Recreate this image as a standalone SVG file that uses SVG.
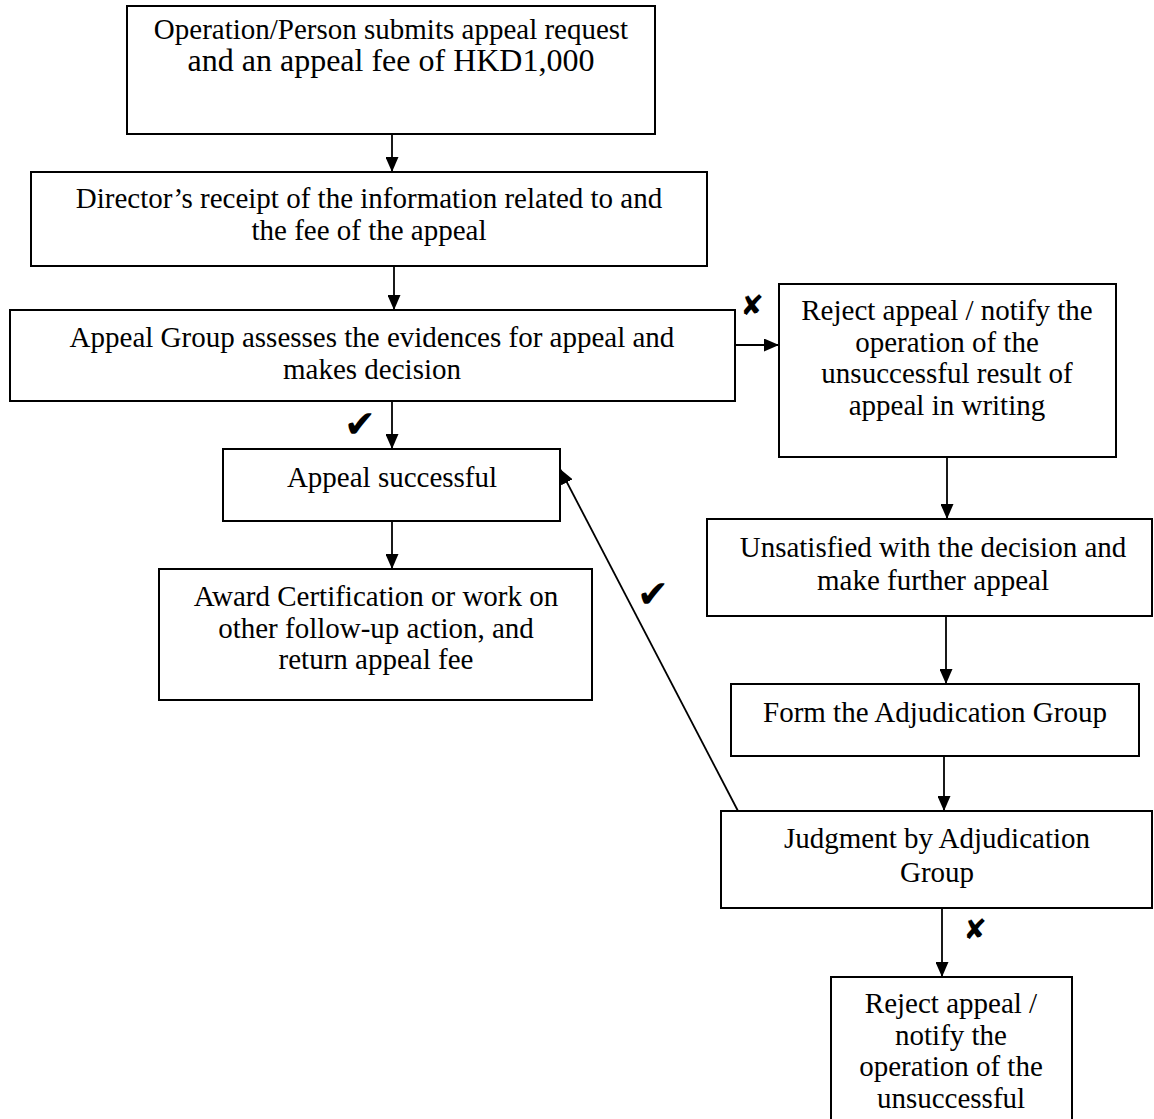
<svg xmlns="http://www.w3.org/2000/svg" width="1154" height="1119" viewBox="0 0 1154 1119">
<style>
  .box { fill: #fff; stroke: #000; stroke-width: 2; }
  .t { font-family: "Liberation Serif", "Times New Roman", serif; font-size: 29px; fill: #000; text-anchor: middle; }
  .big { font-size: 32px; }
  .conn { stroke: #000; stroke-width: 1.8; fill: none; marker-end: url(#arr); }
  .mark { font-family: "DejaVu Sans", sans-serif; fill: #000; text-anchor: middle; }
  .chk { font-size: 38px; }
  .xm { font-size: 28px; }
</style>
<defs>
  <marker id="arr" markerWidth="15" markerHeight="13" viewBox="0 0 15 13" refX="15" refY="6.5" orient="auto" markerUnits="userSpaceOnUse">
    <path d="M0,0 L15,6.5 L0,13 Z" fill="#000"/>
  </marker>
</defs>
<rect width="1154" height="1119" fill="#fff"/>

<g id="connectors">
  <line class="conn" x1="392" y1="134" x2="392" y2="172"/>
  <line class="conn" x1="394" y1="266" x2="394" y2="310"/>
  <line class="conn" x1="392" y1="401" x2="392" y2="449"/>
  <line class="conn" x1="735" y1="345" x2="779" y2="345"/>
  <line class="conn" x1="947" y1="457" x2="947" y2="519"/>
  <line class="conn" x1="392" y1="521" x2="392" y2="569"/>
  <line class="conn" x1="946" y1="616" x2="946" y2="684"/>
  <line class="conn" x1="944" y1="756" x2="944" y2="811"/>
  <line class="conn" x1="942" y1="908" x2="942" y2="977"/>
  <line class="conn" x1="738" y1="811" x2="560" y2="469"/>
  <text class="mark chk" x="360" y="437">✔</text>
  <text class="mark chk" x="653" y="607">✔</text>
  <text class="mark xm" x="752" y="315">✘</text>
  <text class="mark xm" x="975" y="939">✘</text>
</g>

<g id="n1">
  <rect class="box" x="127" y="6" width="528" height="128"/>
  <text class="t" x="391" y="39">Operation/Person submits appeal request</text>
  <text class="t big" x="391" y="71">and an appeal fee of HKD1,000</text>
</g>
<g id="n2">
  <rect class="box" x="31" y="172" width="676" height="94"/>
  <text class="t" x="369" y="208">Director’s receipt of the information related to and</text>
  <text class="t" x="369" y="240">the fee of the appeal</text>
</g>
<g id="n3">
  <rect class="box" x="10" y="310" width="725" height="91"/>
  <text class="t" x="372" y="347">Appeal Group assesses the evidences for appeal and</text>
  <text class="t" x="372" y="379">makes decision</text>
</g>
<g id="n4">
  <rect class="box" x="779" y="284" width="337" height="173"/>
  <text class="t" x="947" y="320">Reject appeal / notify the</text>
  <text class="t" x="947" y="351.5">operation of the</text>
  <text class="t" x="947" y="383">unsuccessful result of</text>
  <text class="t" x="947" y="414.5">appeal in writing</text>
</g>
<g id="n5">
  <rect class="box" x="223" y="449" width="337" height="72"/>
  <text class="t" x="392" y="487">Appeal successful</text>
</g>
<g id="n6">
  <rect class="box" x="159" y="569" width="433" height="131"/>
  <text class="t" x="376" y="606">Award Certification or work on</text>
  <text class="t" x="376" y="638">other follow-up action, and</text>
  <text class="t" x="376" y="669">return appeal fee</text>
</g>
<g id="n7">
  <rect class="box" x="707" y="519" width="445" height="97"/>
  <text class="t" x="933" y="557">Unsatisfied with the decision and</text>
  <text class="t" x="933" y="590">make further appeal</text>
</g>
<g id="n8">
  <rect class="box" x="731" y="684" width="408" height="72"/>
  <text class="t" x="935" y="722">Form the Adjudication Group</text>
</g>
<g id="n9">
  <rect class="box" x="721" y="811" width="431" height="97"/>
  <text class="t" x="937" y="848">Judgment by Adjudication</text>
  <text class="t" x="937" y="882">Group</text>
</g>
<g id="n10">
  <rect class="box" x="831" y="977" width="241" height="160"/>
  <text class="t" x="951" y="1013">Reject appeal /</text>
  <text class="t" x="951" y="1044.5">notify the</text>
  <text class="t" x="951" y="1076">operation of the</text>
  <text class="t" x="951" y="1107.5">unsuccessful</text>
</g>
</svg>
